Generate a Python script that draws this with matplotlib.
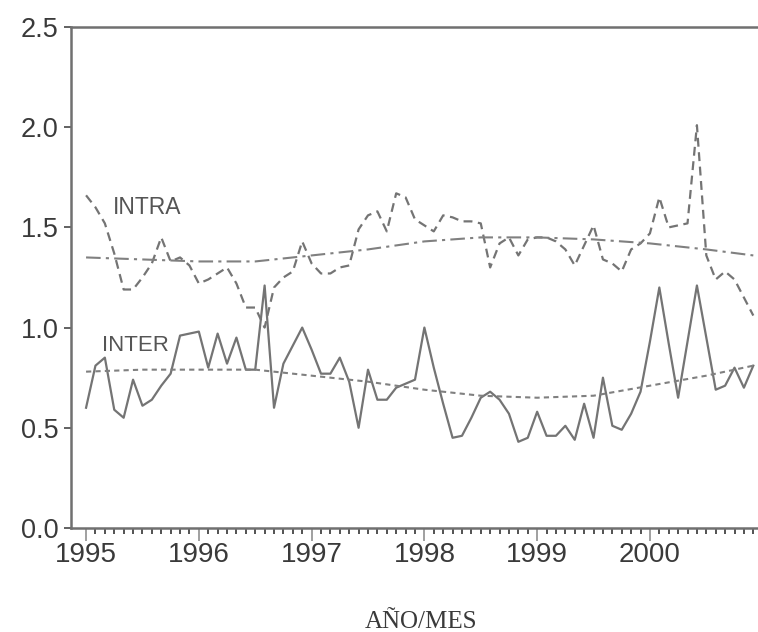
import matplotlib.pyplot as plt
import numpy as np

# valores mensuales, ene-1995 a dic-2000 (72 meses)
intra = [1.66, 1.60, 1.52, 1.37, 1.19, 1.19, 1.25, 1.32, 1.45, 1.33, 1.35, 1.31,
         1.22, 1.24, 1.27, 1.30, 1.22, 1.10, 1.10, 1.00, 1.20, 1.25, 1.28, 1.43,
         1.32, 1.27, 1.27, 1.30, 1.31, 1.49, 1.56, 1.58, 1.48, 1.67, 1.65, 1.54,
         1.51, 1.48, 1.56, 1.55, 1.53, 1.53, 1.52, 1.30, 1.42, 1.45, 1.36, 1.44,
         1.45, 1.45, 1.43, 1.39, 1.31, 1.41, 1.51, 1.34, 1.32, 1.28, 1.39, 1.42,
         1.47, 1.65, 1.50, 1.51, 1.52, 2.01, 1.36, 1.24, 1.28, 1.24, 1.15, 1.06]

inter = [0.60, 0.81, 0.85, 0.59, 0.55, 0.74, 0.61, 0.64, 0.71, 0.77, 0.96, 0.97,
         0.98, 0.80, 0.97, 0.82, 0.95, 0.79, 0.79, 1.21, 0.60, 0.82, 0.91, 1.00,
         0.89, 0.77, 0.77, 0.85, 0.73, 0.50, 0.79, 0.64, 0.64, 0.70, 0.72, 0.74,
         1.00, 0.80, 0.62, 0.45, 0.46, 0.55, 0.65, 0.68, 0.64, 0.57, 0.43, 0.45,
         0.58, 0.46, 0.46, 0.51, 0.44, 0.62, 0.45, 0.75, 0.51, 0.49, 0.57, 0.68,
         0.93, 1.20, 0.92, 0.65, 0.93, 1.21, 0.95, 0.69, 0.71, 0.80, 0.70, 0.81]

# tendencias leidas cada 6 meses
trend_months = [0, 6, 12, 18, 24, 30, 36, 42, 48, 54, 60, 66, 71]
intra_trend = [1.35, 1.34, 1.33, 1.33, 1.36, 1.39, 1.43, 1.45, 1.45, 1.44, 1.42, 1.39, 1.36]
inter_trend = [0.78, 0.79, 0.79, 0.79, 0.76, 0.73, 0.69, 0.66, 0.65, 0.66, 0.71, 0.76, 0.81]

years = ["1995", "1996", "1997", "1998", "1999", "2000"]

months = np.arange(len(intra))
line_color = "#747474"
text_color = "#3a3a3a"

fig = plt.figure(figsize=(7.58, 6.32), dpi=100)
ax = fig.add_axes([0.0937, 0.1646, 0.9063, 0.7927])

ax.plot(months, intra, color=line_color, lw=1.6, linestyle=(0, (4, 2.5)))
ax.plot(months, inter, color=line_color, lw=1.6)
ax.plot(trend_months, intra_trend, color="#808080", lw=1.5, linestyle=(0, (7, 2.5, 1.5, 2.5)))
ax.plot(trend_months, inter_trend, color="#808080", lw=1.5, linestyle=(0, (2.5, 2)))

ax.text(6.5, 1.60, "INTRA", fontsize=16.5, color="#555555", ha="center", va="center",
        family="Liberation Sans")
ax.text(5.3, 0.91, "INTER", fontsize=16, color="#555555", ha="center", va="center",
        family="Liberation Sans")

ax.set_xlim(-1.6, 71.5)
ax.set_ylim(0, 2.5)
ax.set_yticks([0, 0.5, 1.0, 1.5, 2.0, 2.5])
ax.set_yticklabels(["0.0", "0.5", "1.0", "1.5", "2.0", "2.5"])
ax.set_xticks(np.arange(0, 72, 12))
ax.set_xticklabels(years)
ax.set_xticks(np.arange(0, 72), minor=True)

for lab in ax.get_xticklabels() + ax.get_yticklabels():
    lab.set_family("Liberation Sans")
    lab.set_color(text_color)
for lab in ax.get_xticklabels():
    lab.set_fontsize(20)
for lab in ax.get_yticklabels():
    lab.set_fontsize(19.5)

ax.tick_params(axis="y", which="major", length=5, width=1.3, color="#555555", pad=4)
ax.tick_params(axis="x", which="major", length=9, width=1.3, color="#999999", pad=1)
ax.tick_params(axis="x", which="minor", length=4.5, width=1.3, color="#444444")

ax.spines["right"].set_visible(False)
for side in ["left", "top", "bottom"]:
    ax.spines[side].set_color("#707070")
    ax.spines[side].set_linewidth(1.8)

fig.text(0.555, 0.0065, "AÑO/MES", fontsize=18, color=text_color, ha="center",
         va="baseline", family="Liberation Serif")

fig.savefig("out.png", dpi=100)
